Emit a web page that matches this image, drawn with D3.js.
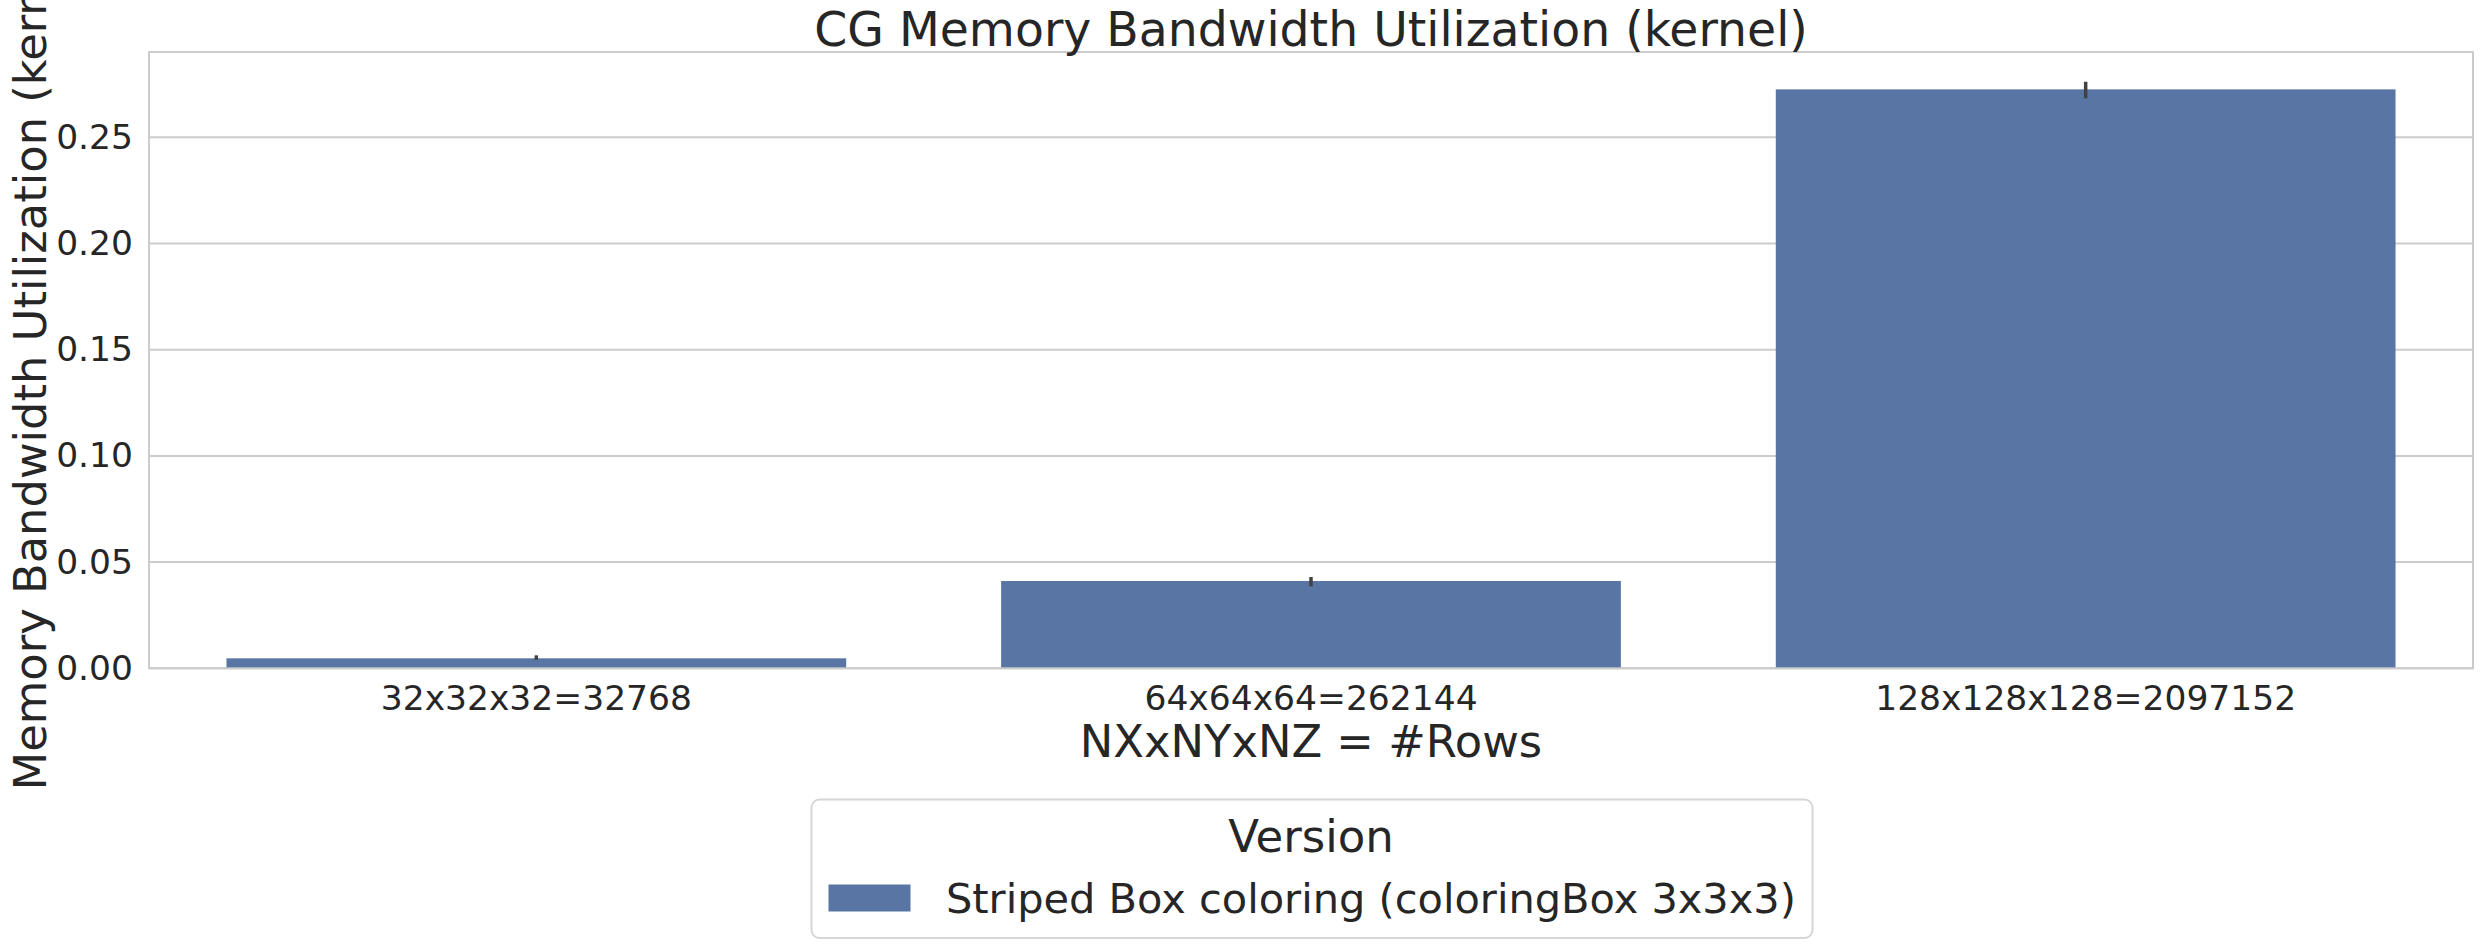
<!DOCTYPE html>
<html>
<head>
<meta charset="utf-8">
<script src="https://cdn.jsdelivr.net/npm/d3@7"></script>
<style>
  html, body { margin: 0; padding: 0; background: #fff; }
  svg { display: block; font-family: "DejaVu Sans", sans-serif; }
</style>
</head>
<body>
<svg id="chart" width="2484" height="948"></svg>
<script>
const categories = ["32x32x32=32768", "64x64x64=262144", "128x128x128=2097152"];
const values = [0.0047, 0.0411, 0.2726];
const errLow = [0.0040, 0.0386, 0.2684];
const errHigh = [0.0061, 0.0430, 0.2762];
const yTicks = [0, 0.05, 0.10, 0.15, 0.20, 0.25];
const seriesName = "Striped Box coloring (coloringBox 3x3x3)";
const legendTitle = "Version";
const title = "CG Memory Bandwidth Utilization (kernel)";
const xLabel = "NXxNYxNZ = #Rows";
const yLabel = "Memory Bandwidth Utilization (kernel)";

(function () {
const svg = d3.select("#chart");
const pL = 149, pR = 2473, pT = 52, pB = 668.3;
const barColor = "#5875a4", textColor = "#262626", gridColor = "#cccccc";

const x = d3.scaleBand().domain(categories).range([pL, pR]).paddingInner(0.2).paddingOuter(0.1);
const y = d3.scaleLinear().domain([0, 0.2902]).range([pB, pT]);

// gridlines
svg.append("g").selectAll("line").data(yTicks).join("line")
  .attr("x1", pL).attr("x2", pR)
  .attr("y1", d => y(d)).attr("y2", d => y(d))
  .attr("stroke", gridColor).attr("stroke-width", 2);

// bars
const data = categories.map((c, i) => ({c, v: values[i], lo: errLow[i], hi: errHigh[i]}));
svg.append("g").selectAll("rect").data(data).join("rect")
  .attr("x", d => x(d.c)).attr("width", x.bandwidth())
  .attr("y", d => y(d.v)).attr("height", d => y(0) - y(d.v))
  .attr("fill", barColor);

// error bars
svg.append("g").selectAll("line").data(data).join("line")
  .attr("x1", d => x(d.c) + x.bandwidth() / 2).attr("x2", d => x(d.c) + x.bandwidth() / 2)
  .attr("y1", d => y(d.lo)).attr("y2", d => y(d.hi))
  .attr("stroke", "#424242").attr("stroke-width", 3.5);

// spines
svg.append("rect").attr("x", pL).attr("y", pT).attr("width", pR - pL).attr("height", pB - pT)
  .attr("fill", "none").attr("stroke", gridColor).attr("stroke-width", 2);

// y axis
const yAxis = svg.append("g").attr("transform", `translate(${pL},0)`)
  .call(d3.axisLeft(y).tickValues(yTicks).tickFormat(d3.format(".2f")).tickSize(0).tickPadding(16));
yAxis.select(".domain").remove();
yAxis.selectAll("text").attr("font-size", 34.5).attr("fill", textColor).attr("font-family", "DejaVu Sans");

// x axis
const xAxis = svg.append("g").attr("transform", `translate(0,${pB})`)
  .call(d3.axisBottom(x).tickSize(0).tickPadding(17));
xAxis.select(".domain").remove();
xAxis.selectAll("text").attr("font-size", 34.5).attr("fill", textColor).attr("font-family", "DejaVu Sans");

// title
svg.append("text").attr("x", (pL + pR) / 2).attr("y", 46)
  .attr("text-anchor", "middle").attr("font-size", 47.3).attr("fill", textColor).text(title);

// x label
svg.append("text").attr("x", (pL + pR) / 2).attr("y", 757)
  .attr("text-anchor", "middle").attr("font-size", 44.8).attr("fill", textColor).text(xLabel);

// y label
svg.append("text").attr("transform", `translate(46,${(pT + pB) / 2}) rotate(-90)`)
  .attr("text-anchor", "middle").attr("font-size", 44.8).attr("fill", textColor).text(yLabel);

// legend
const lg = svg.append("g");
lg.append("rect").attr("x", 811.5).attr("y", 799.5).attr("width", 1001).attr("height", 138.5)
  .attr("rx", 8).attr("fill", "#fff").attr("stroke", "#d6d6d6").attr("stroke-width", 2);
lg.append("text").attr("x", (pL + pR) / 2).attr("y", 851.5)
  .attr("text-anchor", "middle").attr("font-size", 45).attr("fill", textColor).text(legendTitle);
lg.append("rect").attr("x", 828.5).attr("y", 884.5).attr("width", 82).attr("height", 27).attr("fill", barColor);
lg.append("text").attr("x", 946).attr("y", 913.3)
  .attr("font-size", 41.5).attr("fill", textColor).text(seriesName);
})();
</script>
</body>
</html>
